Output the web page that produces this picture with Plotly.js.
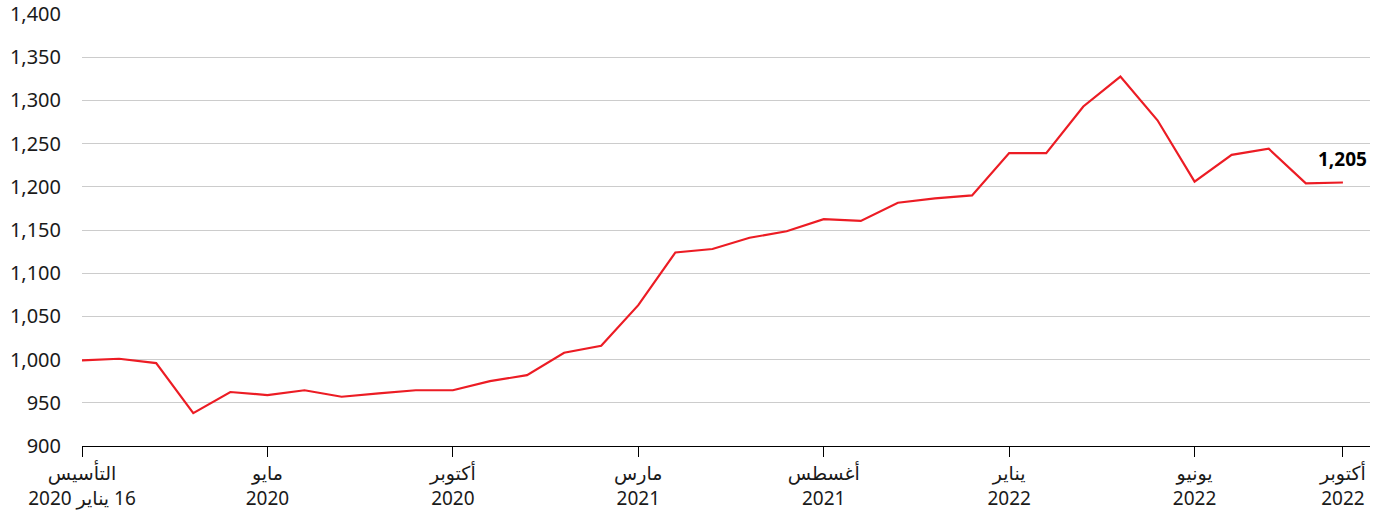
<!DOCTYPE html>
<html>
<head>
<meta charset="utf-8">
<script src="https://cdn.plot.ly/plotly-3.0.1.min.js"></script>
<style>
  html, body { margin: 0; padding: 0; background: #fff; }
  #chart { width: 1384px; height: 515px; }
</style>
</head>
<body>
<div id="chart"></div>
<script>
// Index values (monthly observations, launch = 1,000)
const values = [
  999, 1001, 996, 938, 962.5, 959, 964.5, 957, 961, 964.5,
  964.5, 975, 982, 1008, 1016, 1063, 1124, 1128, 1141, 1148.5,
  1162.5, 1160.5, 1181.5, 1186.5, 1190, 1239, 1239, 1293, 1327.5, 1277,
  1206, 1237, 1244, 1204, 1205
];
const tickPositions = [0, 5, 10, 15, 20, 25, 30, 34];
const tickLabels = [
  "التأسيس<br>\u202B16 يناير 2020\u202C",
  "مايو<br>2020",
  "أكتوبر<br>2020",
  "مارس<br>2021",
  "أغسطس<br>2021",
  "يناير<br>2022",
  "يونيو<br>2022",
  "أكتوبر<br>2022"
];
const lastLabel = "1,205";

const xs = values.map((_, i) => i);
const FONT = "Noto Sans, DejaVu Sans, sans-serif";

const trace = {
  x: xs,
  y: values,
  type: "scatter",
  mode: "lines",
  line: { color: "#ec1c24", width: 2.2 },
  hoverinfo: "skip"
};

const layout = {
  width: 1384,
  height: 515,
  margin: { l: 82, r: 14, t: 14, b: 69 },
  paper_bgcolor: "#ffffff",
  plot_bgcolor: "#ffffff",
  showlegend: false,
  font: { family: FONT, size: 20, color: "#1a1a1a" },
  xaxis: {
    range: [0, 34.73],
    tickvals: tickPositions,
    ticktext: tickLabels,
    showgrid: false,
    zeroline: false,
    showline: true,
    linecolor: "#000000",
    linewidth: 1,
    ticks: "outside",
    ticklen: 10,
    tickwidth: 1,
    tickcolor: "#000000",
    tickfont: { family: FONT, size: 19, color: "#1a1a1a" },
    fixedrange: true
  },
  yaxis: {
    range: [900, 1400],
    tickvals: [900, 950, 1000, 1050, 1100, 1150, 1200, 1250, 1300, 1350, 1400],
    tickformat: ",d",
    showgrid: true,
    gridcolor: "#cccccc",
    gridwidth: 1,
    zeroline: false,
    showline: false,
    ticks: "",
    ticklabelstandoff: 20,
    tickfont: { family: FONT, size: 20, color: "#1a1a1a" },
    fixedrange: true
  },
  annotations: [{
    x: values.length - 1,
    y: values[values.length - 1],
    xref: "x",
    yref: "y",
    text: "<b>" + lastLabel + "</b>",
    showarrow: false,
    yshift: 23,
    xanchor: "center",
    font: { family: FONT, size: 19, color: "#000000" }
  }]
};

Plotly.newPlot("chart", [trace], layout, { displayModeBar: false, staticPlot: true });
</script>
</body>
</html>
